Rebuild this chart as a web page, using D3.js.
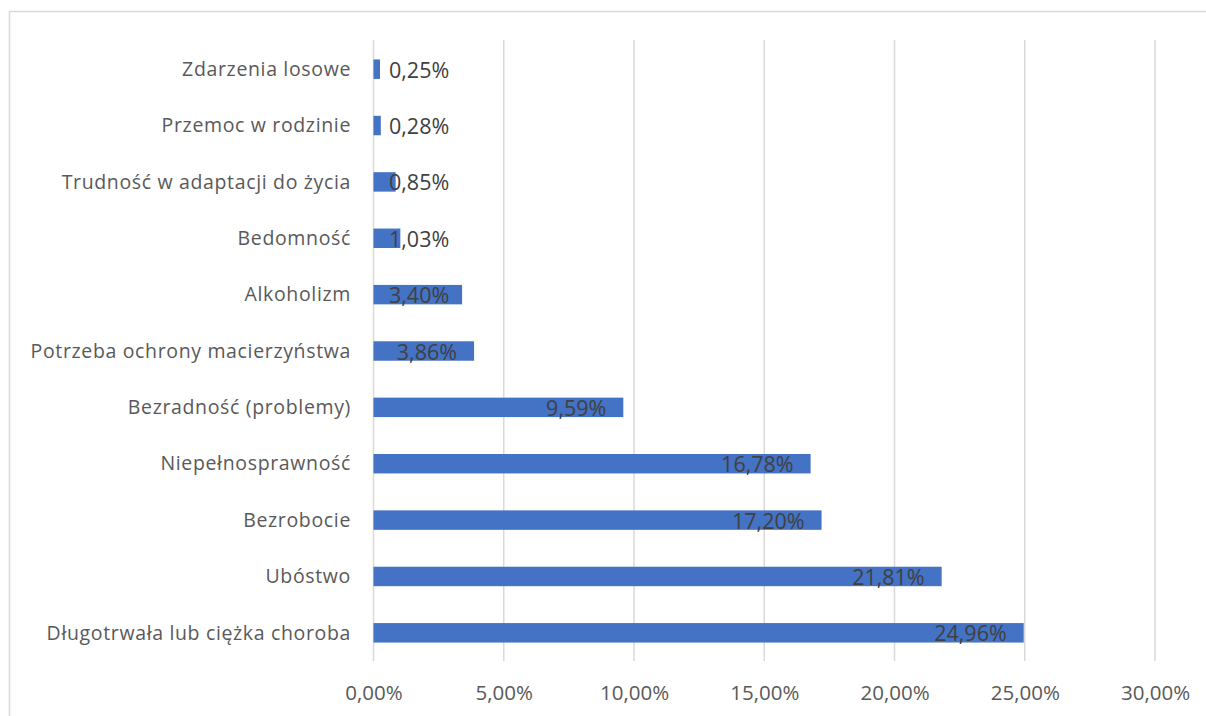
<!DOCTYPE html>
<html>
<head>
<meta charset="utf-8">
<script src="https://cdn.jsdelivr.net/npm/d3@7/dist/d3.min.js"></script>
<style>
  html, body { margin: 0; padding: 0; background: #fff; }
  svg { display: block; }
</style>
</head>
<body>
<svg id="chart" width="1206" height="716"></svg>
<script>
const categories = [
  "Zdarzenia losowe",
  "Przemoc w rodzinie",
  "Trudność w adaptacji do życia",
  "Bedomność",
  "Alkoholizm",
  "Potrzeba ochrony macierzyństwa",
  "Bezradność (problemy)",
  "Niepełnosprawność",
  "Bezrobocie",
  "Ubóstwo",
  "Długotrwała lub ciężka choroba"
];
const values = [0.25, 0.28, 0.85, 1.03, 3.40, 3.86, 9.59, 16.78, 17.20, 21.81, 24.96];
const ticks = [0, 5, 10, 15, 20, 25, 30];

const fmt = v => v.toFixed(2).replace(".", ",") + "%";

const svg = d3.select("#chart");
const W = 1206, H = 716;

// outer chart border
svg.append("rect")
  .attr("x", 9.5).attr("y", 11.5)
  .attr("width", W + 10).attr("height", H + 10)
  .attr("fill", "#fff").attr("stroke", "#d9d9d9").attr("stroke-width", 1.5);

const x = d3.scaleLinear().domain([0, 30]).range([373.5, 1155]);
const y = d3.scaleBand().domain(categories).range([41, 661]).paddingInner(0.655).paddingOuter(0.3275);

// gridlines
svg.append("g").selectAll("line").data(ticks).join("line")
  .attr("x1", d => x(d)).attr("x2", d => x(d))
  .attr("y1", 40).attr("y2", 661)
  .attr("stroke", "#d9d9d9").attr("stroke-width", 1.5);

// x axis labels
const xAxis = d3.axisBottom(x).tickValues(ticks).tickFormat(fmt).tickSize(0).tickPadding(0);
const gx = svg.append("g").attr("transform", "translate(0,700)").call(xAxis);
gx.select(".domain").remove();
gx.selectAll("text")
  .attr("dy", 0).attr("y", 0)
  .attr("font-family", "'Open Sans', sans-serif")
  .attr("font-size", 20.5)
  .attr("fill", "#595959");

// y axis labels
const yAxis = d3.axisLeft(y).tickSize(0).tickPadding(0);
const gy = svg.append("g").attr("transform", "translate(351,0)").call(yAxis);
gy.select(".domain").remove();
gy.selectAll("text")
  .attr("dy", 0).attr("y", 6.7)
  .attr("font-family", "'Open Sans', sans-serif")
  .attr("font-size", 19.5)
  .attr("letter-spacing", "0.65px")
  .attr("fill", "#595959");

// bars
svg.append("g").selectAll("rect").data(categories).join("rect")
  .attr("x", x(0))
  .attr("y", d => y(d))
  .attr("width", (d, i) => x(values[i]) - x(0))
  .attr("height", y.bandwidth())
  .attr("fill", "#4472C4");

// data labels
const lbl = svg.append("g").selectAll("text").data(categories).join("text")
  .attr("font-family", "'Open Sans', sans-serif")
  .attr("font-size", 21.5)
  .attr("fill", "#404040")
  .text((d, i) => fmt(values[i]));

lbl.each(function(d, i) {
  const w = this.getComputedTextLength();
  let left = x(values[i]) - 17 - w;
  if (left < 389) left = 389;
  d3.select(this).attr("x", left).attr("y", y(d) + y.bandwidth() / 2 + 8.5);
});
</script>
</body>
</html>
